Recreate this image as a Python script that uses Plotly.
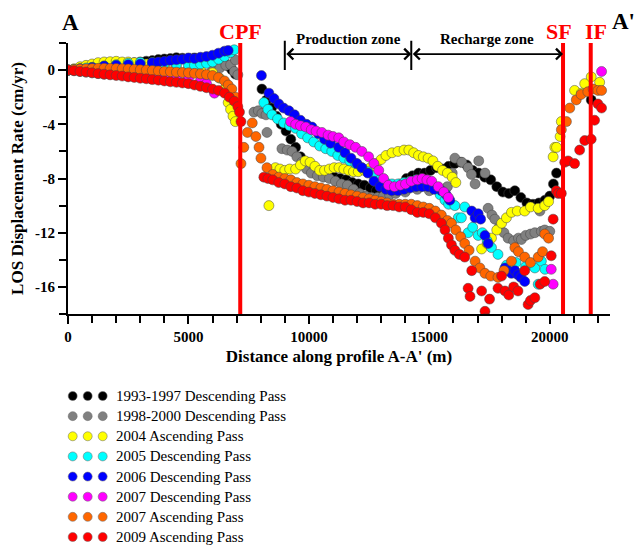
import plotly.graph_objects as go

# ---------------- data (distance m, LOS rate cm/yr) ----------------
SERIES_NAMES = [
    "1993-1997 Descending Pass",
    "1998-2000 Descending Pass",
    "2004 Ascending Pass",
    "2005 Descending Pass",
    "2006 Descending Pass",
    "2007 Descending Pass",
    "2007 Ascending Pass",
    "2009 Ascending Pass",
]
SERIES_COLORS = ["#000000", "#808080", "#FFFF00", "#00FFFF", "#0000FF", "#FF00FF", "#FF6600", "#FF0000"]

BLACK_1993 = [
    (0, 0), (250, 0.04), (500, 0.12), (750, 0.15), (1000, 0.22), (1250, 0.24), (1500, 0.31), (1750, 0.36),
    (2000, 0.40), (2250, 0.44), (2500, 0.52), (2750, 0.55), (3000, 0.60), (3250, 0.66), (3500, 0.70),
    (3750, 0.78), (4000, 0.82), (4250, 0.85), (4500, 0.92), (4750, 0.88), (5000, 0.86), (5250, 0.90),
    (5500, 0.82), (5750, 0.78), (6000, 0.76), (6250, 0.70), (6500, 0.52), (6650, 0.30), (6800, 0.02), (6950, -0.30),
    (8050, -1.4), (8250, -2.2), (8450, -2.8), (8650, -3.4), (8850, -4.0), (9050, -4.5), (9250, -5.1), (9450, -5.7),
    (9650, -6.4), (9850, -6.9), (10050, -7.3), (10300, -7.5), (10550, -7.7), (10800, -7.8), (11050, -7.9),
    (11300, -8.0), (11550, -8.1), (11800, -8.3), (12050, -8.4), (12300, -8.5), (12550, -8.7), (12800, -8.9),
    (13050, -9.1), (13300, -9.2), (13550, -8.9), (13800, -8.4), (14050, -8.0), (14300, -7.8), (14550, -7.6),
    (14800, -7.6), (15050, -7.4), (15300, -7.2), (15550, -7.3), (15800, -7.1), (16050, -6.9), (16300, -6.8),
    (16550, -7.0), (16800, -7.4), (17050, -7.6), (17300, -7.9), (17550, -8.1), (17800, -8.6), (18050, -9.0),
    (18300, -9.1), (18550, -8.9), (18800, -9.4), (19050, -9.8), (19300, -9.9), (19550, -9.8), (19800, -9.6),
    (20000, -9.3), (20150, -8.4), (20280, -7.6), (21720, -2.2),
]

GRAY_1998 = [
    (0, 0), (250, -0.05), (500, -0.1), (750, -0.15), (1000, -0.2), (1250, -0.25), (1500, -0.3), (1750, -0.3),
    (2000, -0.32), (2500, -0.35), (3000, -0.32), (3500, -0.3), (4000, -0.26), (4500, -0.22), (5000, -0.2),
    (5500, -0.12), (6000, 0.0), (6300, 0.15), (6550, 0.35), (6750, 0.4), (6950, 0.75), (6900, -0.1), (7050, -0.35),
    (7720, -3.1), (7900, -3.0), (8050, -3.2), (8220, -3.3), (8260, -4.6), (8880, -5.8), (9100, -5.9), (9300, -6.0),
    (9500, -6.4), (9700, -6.8), (9900, -7.3), (10100, -7.6), (10350, -7.8), (10600, -7.9), (10850, -8.0),
    (11100, -8.2), (11350, -8.4), (11600, -8.5), (11850, -8.8), (12100, -9.1), (12350, -9.3), (12600, -9.4),
    (12850, -9.4), (13100, -9.3), (13350, -9.2), (13600, -9.1), (14000, -9.0), (14500, -8.8), (15000, -8.9),
    (15500, -8.9), (15750, -8.6), (15950, -7.6), (16060, -6.5), (16350, -6.8), (16610, -7.2), (16750, -7.7),
    (16900, -8.4), (17050, -6.7), (17310, -7.6), (17440, -10.2), (17600, -10.7), (17720, -11.0), (17900, -11.6),
    (18100, -12.0), (18270, -12.4), (18500, -12.6), (18700, -12.4), (18820, -12.5), (19000, -12.2),
    (19200, -12.1), (19380, -12.0), (19590, -10.4), (19650, -11.9), (19790, -11.8), (20000, -11.9),
]

YELLOW_2004 = [
    (0, 0), (250, 0.1), (500, 0.25), (750, 0.35), (1000, 0.45), (1250, 0.55), (1500, 0.6), (1750, 0.62),
    (2000, 0.65), (2250, 0.6), (2500, 0.6), (2750, 0.55), (3000, 0.5), (3250, 0.45), (3500, 0.4), (4000, 0.3),
    (4500, 0.2), (5000, 0.1), (5500, 0.0), (6000, -0.2), (6300, -0.6), (6500, -1.4), (6650, -2.4), (6750, -2.9),
    (6850, -3.4), (6950, -3.8),
    (8340, -10.0), (8610, -7.2), (8800, -7.3), (9000, -7.4), (9200, -7.3), (9450, -7.3), (9650, -7.0),
    (9850, -6.7), (10050, -6.8), (10250, -7.1), (10450, -7.4), (10650, -7.4), (10850, -7.3), (11050, -7.2),
    (11250, -7.2), (11450, -7.3), (11650, -7.4), (11850, -7.5), (12050, -7.5), (12300, -7.4), (12550, -7.2),
    (12800, -6.9), (13000, -6.6), (13200, -6.3), (13450, -6.1), (13700, -6.0), (13950, -5.9), (14150, -5.9),
    (14350, -6.1), (14550, -6.3), (14750, -6.4), (14950, -6.5), (15150, -6.7), (15350, -7.1), (15550, -7.4),
    (15750, -7.6), (15950, -7.9), (16100, -8.3),
    (17170, -13.2), (17400, -12.8), (17580, -12.4), (17800, -11.8), (18000, -11.3), (18200, -10.9),
    (18410, -10.5), (18650, -10.4), (18960, -10.4), (19200, -10.1), (19520, -10.2), (19790, -10.0), (19950, -9.7),
    (20140, -6.4), (20210, -5.7), (20280, -5.7), (20430, -4.9), (20480, -3.8), (21030, -1.5), (21310, -1.7),
    (21450, -1.0), (21720, -0.5), (22070, -0.9),
]

CYAN_2005 = [
    (0, 0), (250, 0.05), (500, 0.1), (750, 0.15), (1000, 0.2), (1500, 0.3), (2000, 0.4), (2500, 0.5),
    (3000, 0.58), (3500, 0.56), (4000, 0.5), (4500, 0.42), (5000, 0.35), (5250, 0.35), (5500, 0.45),
    (5750, 0.5), (6000, 0.6), (6250, 0.8), (6500, 1.0), (6750, 1.3), (6900, 1.5),
    (8130, -2.4), (8300, -2.9), (8470, -3.3), (8700, -3.6), (8950, -3.9), (9200, -4.1), (9450, -4.3),
    (9700, -4.7), (9950, -5.0), (10200, -5.3), (10450, -5.6), (10700, -5.8), (10950, -6.0), (11200, -6.3),
    (11450, -6.5), (11700, -6.7), (11950, -6.9), (12200, -7.2), (12450, -7.5), (12700, -7.8), (12950, -8.1),
    (13200, -8.3), (13450, -8.4), (13700, -8.4), (13950, -8.3), (14200, -8.2), (14450, -8.1), (14700, -8.1),
    (14950, -8.2), (15200, -8.6), (15450, -9.2), (15650, -9.6), (15800, -9.9), (16060, -10.0), (16200, -10.9),
    (16470, -10.1), (16330, -10.9), (16610, -12.0), (16800, -11.6), (17030, -12.2), (17200, -12.0),
    (17400, -12.6), (17580, -13.1), (17850, -13.6), (18200, -14.4), (18600, -14.2), (19000, -14.5),
    (19380, -14.6), (19520, -15.8), (19650, -14.1), (19800, -14.7),
]

BLUE_2006 = [
    (0, 0), (500, 0.1), (1000, 0.2), (1500, 0.3), (2000, 0.35), (2500, 0.4), (3000, 0.45), (3500, 0.55),
    (3750, 0.6), (4000, 0.65), (4250, 0.72), (4500, 0.76), (4750, 0.8), (5000, 0.9), (5250, 0.85), (5500, 0.95),
    (5750, 1.0), (6000, 1.1), (6250, 1.25), (6500, 1.4), (6650, 1.45),
    (8030, -0.4), (8340, -1.7), (8550, -2.1), (8750, -2.5), (8950, -2.8), (9170, -3.0), (9400, -3.3),
    (9650, -3.7), (9900, -4.0), (10130, -4.2), (10400, -4.7), (10650, -5.1), (10900, -5.4), (11240, -5.7),
    (11500, -6.1), (11750, -6.5), (12000, -6.9), (12200, -7.2), (12450, -7.6), (12700, -8.2), (12950, -8.6),
    (13200, -8.8), (13440, -8.9), (13700, -8.9), (13950, -8.8), (14200, -8.7), (14450, -8.6), (14700, -8.6),
    (14950, -8.6), (15200, -8.8), (15500, -8.9), (15700, -9.2), (15850, -9.6),
    (16760, -10.4), (16900, -10.9), (17030, -10.6), (17130, -11.0), (17310, -12.2), (17440, -12.8),
    (18140, -14.6), (18270, -14.8), (18410, -15.0), (18550, -14.8), (18680, -15.1), (18800, -15.3), (18960, -15.6),
]

MAGENTA_2007D = [
    (0, 0), (500, -0.05), (1000, -0.1), (1500, -0.15), (2000, -0.2), (2500, -0.25), (3000, -0.3), (3500, -0.35),
    (4000, -0.42), (4500, -0.5), (5000, -0.6), (5500, -0.8), (5750, -1.0), (6080, -1.7),
    (9240, -3.8), (9450, -4.0), (9650, -4.1), (9870, -4.2), (10100, -4.4), (10300, -4.5), (10540, -4.6),
    (10800, -4.8), (11000, -4.9), (11240, -5.0), (11450, -5.3), (11700, -5.5), (11940, -5.7), (12200, -6.0),
    (12480, -6.4), (12700, -6.9), (12900, -7.4), (13100, -8.0), (13300, -8.5), (13550, -8.6), (13800, -8.5),
    (14010, -8.4), (14250, -8.2), (14500, -8.1), (14700, -8.0), (14900, -8.1), (15100, -8.2), (15370, -8.6),
    (15600, -9.0), (15790, -9.4),
    (20060, -14.7), (20140, -15.8), (22150, -0.1),
]

ORANGE_2007A = [
    (0, 0), (250, 0.05), (500, 0.08), (750, 0.1), (1000, 0.12), (1250, 0.13), (1500, 0.13), (1750, 0.12),
    (2000, 0.12), (2250, 0.1), (2500, 0.08), (2750, 0.05), (3000, 0.02), (3250, 0.0), (3500, -0.03),
    (3750, -0.06), (4000, -0.1), (4250, -0.12), (4500, -0.15), (4750, -0.18), (5000, -0.2), (5250, -0.24),
    (5500, -0.28), (5750, -0.33), (6000, -0.4), (6250, -0.55), (6500, -0.8), (6650, -1.1), (6800, -1.4), (6950, -2.0),
    (7180, -6.9), (7300, -5.7), (7450, -4.6), (7650, -3.9), (7800, -4.9), (7930, -5.7), (8010, -6.5),
    (8260, -7.2), (8500, -7.7), (8750, -7.9), (9000, -8.0), (9250, -8.1), (9500, -8.3), (9750, -8.4),
    (10000, -8.5), (10250, -8.6), (10500, -8.7), (10750, -8.8), (11000, -8.9), (11250, -9.0), (11500, -9.1),
    (11750, -9.2), (12000, -9.3), (12250, -9.4), (12500, -9.5), (12750, -9.6), (13000, -9.7), (13250, -9.8),
    (13500, -9.9), (13750, -9.9), (14000, -9.9), (14250, -9.9), (14500, -10.0), (14750, -10.1), (15000, -10.2),
    (15250, -10.4), (15500, -10.7), (15750, -11.1), (15920, -11.3), (16100, -11.8), (16300, -12.3),
    (16470, -12.8), (16650, -13.3), (16900, -14.1), (17100, -14.6), (17310, -15.0), (17550, -15.2),
    (17850, -15.3), (18100, -14.8), (18410, -14.1), (18550, -13.1), (18700, -13.4), (18960, -13.8),
    (19200, -14.2), (19520, -13.8), (19700, -13.4), (19790, -12.1), (19950, -12.4),
    (20480, -4.4), (20690, -3.8), (20830, -2.8), (21100, -2.2), (21300, -1.8), (21580, -1.6), (21800, -1.4),
    (22000, -1.5), (22150, -1.5),
]

RED_2009 = [
    (0, 0), (250, -0.04), (500, -0.1), (750, -0.14), (1000, -0.2), (1250, -0.26), (1500, -0.3), (1750, -0.35),
    (2000, -0.4), (2250, -0.44), (2500, -0.5), (2750, -0.54), (3000, -0.6), (3250, -0.64), (3500, -0.7),
    (3750, -0.74), (4000, -0.8), (4250, -0.86), (4500, -0.9), (4750, -0.95), (5000, -1.0), (5250, -1.1),
    (5500, -1.2), (5750, -1.3), (6000, -1.4), (6250, -1.5), (6500, -1.7), (6700, -2.0), (6900, -2.3),
    (7050, -2.7), (7120, -3.1), (7180, -3.8),
    (8130, -7.9), (8300, -8.0), (8500, -8.1), (8750, -8.3), (9000, -8.4), (9250, -8.6), (9500, -8.7),
    (9750, -8.9), (10000, -9.0), (10250, -9.1), (10500, -9.2), (10750, -9.3), (11000, -9.4), (11250, -9.5),
    (11500, -9.6), (11750, -9.6), (12000, -9.7), (12250, -9.8), (12500, -9.8), (12750, -9.9), (13000, -9.9),
    (13250, -10.0), (13500, -10.0), (13750, -10.1), (14000, -10.1), (14250, -10.3), (14500, -10.5),
    (14750, -10.5), (15000, -10.6), (15250, -10.9), (15500, -11.3), (15650, -11.8), (15790, -12.4),
    (15920, -12.9), (16060, -13.3), (16250, -13.6), (16470, -13.8), (16610, -16.1), (16690, -16.7),
    (16760, -14.8), (17170, -16.3), (17310, -17.8), (17360, -18.3), (17500, -16.9), (17850, -16.1),
    (18000, -15.2), (18140, -16.3), (18300, -16.6), (18500, -16.0), (18680, -16.3), (18960, -14.8),
    (19100, -17.3), (19200, -17.0), (19380, -16.8), (19600, -15.8), (19790, -15.6), (20060, -13.7),
    (20140, -11.0), (20270, -8.9), (20350, -9.1), (20480, -9.1), (20620, -6.8), (20760, -6.7), (21030, -6.9),
    (21240, -5.9), (21450, -5.2), (21720, -5.1), (21860, -3.7), (22000, -2.5), (22150, -2.8),
]

SERIES_POINTS = [BLACK_1993, GRAY_1998, YELLOW_2004, CYAN_2005, BLUE_2006, MAGENTA_2007D, ORANGE_2007A, RED_2009]

FAULT_NAMES = ["CPF", "SF", "IF"]
FAULT_X = [7150, 20550, 21700]
FAULT_LABEL_X = [7150, 20370, 21900]

ZONE_NAMES = ["Production zone", "Recharge zone"]
ZONE_BOUNDS = [9000, 14250, 20550]
ZONE_ARROW_Y = 1.18
ZONE_BAR_TOP = 2.27

X_TICKS = [0, 5000, 10000, 15000, 20000]
Y_TICKS = [0, -4, -8, -12, -16]

SERIF = "Liberation Serif, Times New Roman, serif"

fig = go.Figure()

# data markers
for name, color, pts in zip(SERIES_NAMES, SERIES_COLORS, SERIES_POINTS):
    fig.add_trace(go.Scatter(
        x=[p[0] for p in pts], y=[p[1] for p in pts], mode="markers", name=name,
        marker=dict(size=10, color=color, line=dict(width=0.6, color="rgba(70,70,70,0.85)")),
        showlegend=False, xaxis="x", yaxis="y",
    ))

# custom legend (three dots per entry) on an invisible helper axis
for i, (name, color) in enumerate(zip(SERIES_NAMES, SERIES_COLORS)):
    fig.add_trace(go.Scatter(
        x=[0, 1, 2], y=[i, i, i], mode="markers", cliponaxis=False,
        marker=dict(size=9, color=color, line=dict(width=0.6, color="rgba(110,110,110,0.9)")),
        showlegend=False, xaxis="x2", yaxis="y2", hoverinfo="skip",
    ))
    fig.add_annotation(x=2.75, y=i, xref="x2", yref="y2", text=name, showarrow=False,
                       xanchor="left", yanchor="middle",
                       font=dict(family=SERIF, size=15, color="black"))

# fault lines
for fname, fx, lx in zip(FAULT_NAMES, FAULT_X, FAULT_LABEL_X):
    fig.add_shape(type="line", x0=fx, x1=fx, y0=-18, y1=2, xref="x", yref="y",
                  line=dict(color="#FF0000", width=4), layer="above")
    fig.add_annotation(x=lx, y=1.024, xref="x", yref="paper", text=fname, showarrow=False,
                       xanchor="center", yanchor="middle",
                       font=dict(family=SERIF, size=22, color="#FF0000", weight="bold"))

# zone bars and arrows
for bx in ZONE_BOUNDS[:2]:
    fig.add_annotation(x=bx, y=0, ax=bx, ay=ZONE_BAR_TOP, xref="x", yref="y", axref="x", ayref="y",
                       text="", showarrow=True, arrowhead=0, arrowwidth=2, arrowcolor="black")
for zname, x0, x1 in zip(ZONE_NAMES, ZONE_BOUNDS[:-1], ZONE_BOUNDS[1:]):
    fig.add_annotation(x=x1, y=ZONE_ARROW_Y, ax=x0, ay=ZONE_ARROW_Y, xref="x", yref="y",
                       axref="x", ayref="y", text="", showarrow=True, arrowside="end+start",
                       arrowhead=4, startarrowhead=4, arrowsize=1.3, startarrowsize=1.3,
                       arrowwidth=1.6, arrowcolor="black")
    fig.add_annotation(x=(x0 + x1) / 2, y=1.008, xref="x", yref="paper", text=zname, showarrow=False,
                       xanchor="center", yanchor="middle",
                       font=dict(family=SERIF, size=15, color="black", weight="bold"))

# profile end labels
fig.add_annotation(x=0.0037, y=1.042, xref="paper", yref="paper", text="A", showarrow=False,
                   xanchor="center", yanchor="middle",
                   font=dict(family=SERIF, size=23, color="black", weight="bold"))
fig.add_annotation(x=1.0, y=1.044, xref="paper", yref="paper", text="A'", showarrow=False,
                   xanchor="left", yanchor="middle",
                   font=dict(family=SERIF, size=23, color="black", weight="bold"))

axis_common = dict(showline=True, linecolor="black", linewidth=2, showgrid=False, zeroline=False,
                   ticks="outside", ticklen=8, tickwidth=2, tickcolor="black", automargin=False,
                   tickfont=dict(family=SERIF, size=15, color="black", weight="bold"))

fig.update_layout(
    template="none",
    width=635, height=545,
    margin=dict(l=68, r=25, t=43, b=5),
    paper_bgcolor="white", plot_bgcolor="white",
    showlegend=False,
    xaxis=dict(domain=[0, 1], range=[0, 22500], anchor="y",
               tickmode="array", tickvals=X_TICKS, ticktext=[str(v) for v in X_TICKS],
               minor=dict(dtick=1000, tick0=0, ticks="outside", ticklen=7, tickwidth=2, tickcolor="black"),
               title=dict(text="Distance along profile A-A' (m)", standoff=6,
                          font=dict(family=SERIF, size=17, color="black", weight="bold")),
               **axis_common),
    yaxis=dict(domain=[0.4547, 1], range=[-18, 2], anchor="x",
               tickmode="array", tickvals=Y_TICKS, ticktext=[str(v) for v in Y_TICKS],
               minor=dict(dtick=2, tick0=0, ticks="outside", ticklen=7, tickwidth=2, tickcolor="black"),
               title=dict(text="LOS Displacement Rate (cm/yr)", standoff=7,
                          font=dict(family=SERIF, size=17, color="black", weight="bold")),
               **axis_common),
    xaxis2=dict(domain=[0, 1], range=[-0.313, 35.82], anchor="y2", visible=False, fixedrange=True),
    yaxis2=dict(domain=[0, 0.31], range=[7.15, -0.5], anchor="x2", visible=False, fixedrange=True),
)

fig.write_html(
    "out.html",
    config={"displayModeBar": False},
    post_script="document.body.style.margin='0';document.body.style.overflow='hidden';",
)
